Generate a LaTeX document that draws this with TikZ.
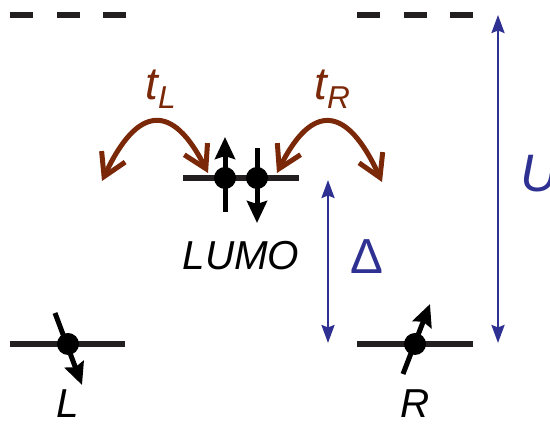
\documentclass[tikz,border=0pt]{standalone}
\usepackage{fontspec}
\setmainfont{Liberation Sans}
\usepackage{tikz}
\usetikzlibrary{arrows.meta, positioning}
\definecolor{lvlc}{RGB}{35,31,32}
\definecolor{hopc}{RGB}{122,40,8}
\definecolor{gapc}{RGB}{46,49,146}

\begin{document}
\begin{tikzpicture}[
  level/.style={line width=0.12cm, color=lvlc},
  empty/.style={level, dash pattern={on 0.46cm off 0.47cm}},
  dot/.style={circle, fill=black, inner sep=0pt, minimum size=0.44cm},
  spin/.style={line width=0.1cm, -{Stealth[length=0.44cm, width=0.4cm, inset=0.06cm]}},
  hop/.style={line width=0.1cm, color=hopc, {Straight Barb[length=0.44cm, width=0.52cm]}-{Straight Barb[length=0.44cm, width=0.52cm]}},
  gap/.style={line width=0.05cm, color=gapc, {Stealth[length=0.36cm, width=0.26cm, inset=0.05cm]}-{Stealth[length=0.36cm, width=0.26cm, inset=0.05cm]}},
  lbl/.style={font=\fontsize{23}{28}\selectfont\itshape, inner sep=0pt}
]
  \useasboundingbox (0, 0) rectangle (11, 8.5);

  % Empty levels
  \draw[empty] (0.2, 8.2) -- (2.52, 8.2);
  \draw[empty] (7.14, 8.2) -- (9.46, 8.2);

  % Occupied levels
  \draw[level] (0.2, 1.62) -- (2.5, 1.62);
  \draw[level] (3.66, 4.94) -- (5.98, 4.94);
  \draw[level] (7.14, 1.62) -- (9.46, 1.62);

  % Electrons
  \node[dot] (eL) at (1.36, 1.62) {};
  \node[dot] (eup) at (4.5, 4.94) {};
  \node[dot] (edn) at (5.14, 4.94) {};
  \node[dot] (eR) at (8.3, 1.62) {};

  % Spins
  \coordinate (sL1) at (1.1, 2.24);
  \coordinate (sL2) at (1.64, 0.8);
  \coordinate (sU1) at (4.5, 4.26);
  \coordinate (sU2) at (4.5, 5.76);
  \coordinate (sD1) at (5.14, 5.54);
  \coordinate (sD2) at (5.14, 4.04);
  \coordinate (sR1) at (8.06, 1.02);
  \coordinate (sR2) at (8.6, 2.42);
  \draw[spin] (sL1) -- (sL2);
  \draw[spin] (sU1) -- (sU2);
  \draw[spin] (sD1) -- (sD2);
  \draw[spin] (sR1) -- (sR2);

  % Hopping
  \coordinate (hL1) at (2.04, 4.88);
  \coordinate (hL2) at (4.16, 5.04);
  \coordinate (hR1) at (5.54, 5.04);
  \coordinate (hR2) at (7.64, 4.86);
  \draw[hop] (hL1) .. controls (2.75, 6.4) and (3.45, 6.45) .. (hL2);
  \draw[hop] (hR1) .. controls (6.24, 6.45) and (6.94, 6.4) .. (hR2);

  % Energy gaps
  \coordinate (dTop) at (6.56, 4.9);
  \coordinate (dBot) at (6.56, 1.64);
  \coordinate (uTop) at (9.96, 8.2);
  \coordinate (uBot) at (9.96, 1.64);
  \draw[gap] (dTop) -- (dBot);
  \draw[gap] (uTop) -- (uBot);

  % Labels
  \node[lbl, anchor=base] (labL) at (1.36, 0.15) {L};
  \node[lbl, anchor=base] (labR) at (8.3, 0.15) {R};
  \node[lbl, anchor=base] (labLUMO) at (4.82, 3.1) {LUMO};
  \node[lbl, anchor=base west, text=hopc, font=\fontsize{26}{30}\selectfont\itshape] (labtL) at (2.9, 6.5) {t\raisebox{-5pt}{\fontsize{18}{18}\selectfont L}};
  \node[lbl, anchor=base west, text=hopc, font=\fontsize{26}{30}\selectfont\itshape] (labtR) at (6.28, 6.5) {t\raisebox{-5pt}{\fontsize{18}{18}\selectfont R}};
  \node[lbl, anchor=base, text=gapc, font=\fontsize{28}{32}\selectfont] (labD) at (7.34, 3.02) {Δ};
  \node[lbl, anchor=base west, text=gapc, font=\fontsize{30}{34}\selectfont\itshape] (labU) at (10.4, 4.66) {U};
\end{tikzpicture}
\end{document}
